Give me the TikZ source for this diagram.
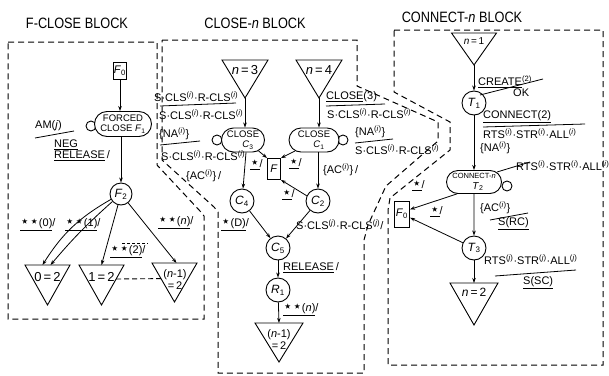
\documentclass[tikz,border=0pt]{standalone}
\usepackage{fontspec}
\setmainfont{Liberation Sans}
\newfontfamily\starfont{DejaVu Sans}
\newfontfamily\titlefont{Liberation Sans}[FakeStretch=0.85]
\usetikzlibrary{calc,arrows.meta,shapes.misc}
\newcommand{\supi}{\textsuperscript{(\textit{i})}}
\newcommand{\supj}{\textsuperscript{(\textit{j})}}
\newcommand{\sstar}{{\starfont\fontsize{15}{11}\selectfont ⋆}}
\newcommand{\myscls}{S·CLS\supi·R-CLS\supi}
\begin{document}
\begin{tikzpicture}[x=1pt,y=-1pt,
  lbl/.style={font=\fontsize{11}{12}\selectfont, inner sep=0pt, anchor=west},
  ttl/.style={font=\titlefont\fontsize{15}{18}\selectfont, inner sep=0pt},
  blk/.style={dash pattern=on 6pt off 4pt, line width=1pt},
  arr/.style={-{Stealth[length=5pt,width=3.5pt]}, line width=0.8pt},
  bar/.style={line width=0.8pt},
  st/.style={circle, draw, line width=0.9pt, minimum size=24pt, inner sep=0pt, fill=white, font=\fontsize{12}{12}\selectfont},
  capn/.style={rounded rectangle, draw, fill=white, line width=0.9pt, inner sep=0pt, align=center},
  boxn/.style={rectangle, draw, fill=white, line width=0.9pt, inner sep=0pt, font=\fontsize{11}{11}\selectfont},
  loopc/.style={circle, draw, line width=0.9pt, minimum size=10pt, inner sep=0pt},
  trin/.style={inner sep=0pt, outer sep=0pt},
  trid/.style={line width=0.9pt, line join=miter},
  tlbl/.style={font=\fontsize{13}{14}\selectfont, inner sep=0pt, align=center}
]
\useasboundingbox (0,0) rectangle (609,375);
\fill[white] (0,0) rectangle (609,375);

% titles
\node[ttl] (ttlF) at (77,23) {F-CLOSE BLOCK};
\node[ttl] (ttlC) at (255,23) {CLOSE-\textit{n} BLOCK};
\node[ttl] (ttlN) at (462,17) {CONNECT-\textit{n} BLOCK};

% block boundaries
\draw[blk] (8,42) -- (157,42) -- (157,165) -- (200,211) -- (204,216) -- (204,319) -- (8,319) -- cycle;
\draw[blk] (162,40) -- (357,40) -- (357,86) -- (438,122) -- (438,141) -- (386,186) -- (368,225) -- (364,240) -- (364,373) -- (218,373) -- (218,212) -- (214,207) -- (162,160) -- cycle;
\draw[blk] (394,30) -- (603,30) -- (603,365) -- (388,365) -- (388,210) -- (390,198) -- (450,150) -- (450,122) -- (394,92) -- cycle;

% ---------- F-CLOSE block ----------
\node[boxn, minimum width=13, minimum height=17] (F0) at (120,71) {\textit{F}\textsubscript{0}};
\node[loopc] (F1loop) at (91,126) {};
\node[capn, minimum width=57, minimum height=25, font=\fontsize{9.5}{10.5}\selectfont] (F1) at (123,124) {FORCED\\CLOSE \textit{F}\textsubscript{1}};
\node[st, minimum size=22pt] (F2) at (121,194) {\textit{F}\textsubscript{2}};

\node[trin, minimum width=45, minimum height=40] (t0) at (47.5,285) {};
\draw[trid] (t0.north west) -- (t0.north east) -- (t0.south) -- cycle;
\node[tlbl] (t0x) at (47.5,277) {0\,=\,2};
\node[trin, minimum width=45, minimum height=40] (t1) at (101.5,285) {};
\draw[trid] (t1.north west) -- (t1.north east) -- (t1.south) -- cycle;
\node[tlbl] (t1x) at (101.5,277) {1\,=\,2};
\node[trin, minimum width=45, minimum height=39] (tn) at (174.5,282.5) {};
\draw[trid] (tn.north west) -- (tn.north east) -- (tn.south) -- cycle;
\node[tlbl, font=\fontsize{11}{12}\selectfont] (tnx) at (175,280) {(\textit{n}-1)\\=\,2};

\draw[arr] (F0.south) -- (F0.south |- F1.north);
\draw[arr] (F1.south -| F2) -- (F2);
\draw[arr] (F2) to[bend right=14] ($(t0.north)+(-5,0)$);
\draw[arr] (F2) to[bend right=4] ($(t0.north)+(3,0)$);
\draw[arr] (F2) -- (t1.north);
\draw[arr] (F2) -- ($(tn.north)+(2,0)$);
\draw[dash pattern=on 5pt off 3pt, line width=0.9pt] ($(t1.north east)!0.35!(t1.south)$) -- ($(tn.north west)!0.4!(tn.south)$);

\node[lbl] (lAM) at (35,126) {AM(\textit{j})};
\draw[bar] (35,138) -- (74,131);
\node[lbl] (lNEG) at (54,145) {\underline{NEG}};
\node[lbl] (lREL) at (54,156) {\underline{RELEASE}\,/};
\node[lbl] (lS0) at (20,225) {\underline{\sstar\sstar(0)}/};
\node[lbl] (lS1) at (65,225) {\underline{\sstar\sstar(1)}/};
\node[lbl] (lS2) at (110,252) {\underline{\sstar\sstar(2)}/};
\draw[dash pattern=on 3pt off 2pt, line width=0.7pt] (122,243) -- (148,243);
\node[lbl] (lSn) at (158,223) {\underline{\sstar\sstar(\textit{n})}/};

% ---------- CLOSE-n block ----------
\node[trin, minimum width=46, minimum height=38] (t3) at (245,79) {};
\draw[trid] (t3.north west) -- (t3.north east) -- (t3.south) -- cycle;
\node[tlbl] (t3x) at (245,70) {\textit{n}\,=\,3};
\node[trin, minimum width=46, minimum height=38] (t4) at (319,79) {};
\draw[trid] (t4.north west) -- (t4.north east) -- (t4.south) -- cycle;
\node[tlbl] (t4x) at (319,70) {\textit{n}\,=\,4};

\node[loopc] (C3loop) at (217,140) {};
\node[capn, minimum width=43, minimum height=24, font=\fontsize{9.5}{10.5}\selectfont] (C3) at (243,140) {CLOSE\\\hspace*{10pt}\textit{C}\textsubscript{3}};
\node[loopc] (C1loop) at (343,140) {};
\node[capn, minimum width=50, minimum height=24, font=\fontsize{9.5}{10.5}\selectfont] (C1) at (314,140) {CLOSE\\\hspace*{10pt}\textit{C}\textsubscript{1}};
\node[boxn, minimum width=13, minimum height=21] (Fb) at (274,169) {\textit{F}};
\node[st] (C4) at (242,201) {\textit{C}\textsubscript{4}};
\node[st] (C2) at (318,201) {\textit{C}\textsubscript{2}};
\node[st] (C5) at (278,248) {\textit{C}\textsubscript{5}};
\node[st] (R1) at (278,290) {\textit{R}\textsubscript{1}};
\node[trin, minimum width=48, minimum height=39] (tc) at (279,342.5) {};
\draw[trid] (tc.north west) -- (tc.north east) -- (tc.south) -- cycle;
\node[tlbl, font=\fontsize{11}{12}\selectfont] (tcx) at (279,340) {(\textit{n}-1)\\=\,2};

\draw[arr] (t3.south) -- (t3.south |- C3.north);
\draw[arr] (t4.south) -- (t4.south |- C1.north);
\draw[arr] ($(C3.south)+(3,0)$) -- (C4);
\draw[arr] (C1.south -| C2) -- (C2);
\draw[arr] (C3.-35) -- (Fb.north west);
\draw[arr] (C1.210) -- (Fb.north east);
\draw[arr] (C2.155) -- (Fb.south east);
\draw[arr] (C4) -- (C5);
\draw[arr] (C2) -- (C5);
\draw[arr] (C5) -- (R1);
\draw[arr] (R1) -- (tc.north);

\node[lbl] (lA1) at (154,97) {\myscls};
\draw[bar] (160,106) -- (236,103);
\node[lbl] (lA2) at (159,115) {\myscls};
\node[lbl] (lA3) at (159,134) {\{NA\supi\}};
\draw[bar] (160,145) -- (200,141);
\node[lbl] (lA4) at (161,156) {\myscls};
\node[lbl] (lA5) at (186,176) {\{AC\supi\}\,/};

\node[lbl] (lB1) at (326,97) {\underline{CLOSE}(3)};
\draw[bar] (326,106) -- (385,104);
\node[lbl] (lB2) at (327,114) {\myscls};
\node[lbl] (lB3) at (355,132) {\{NA\supi\}};
\draw[bar] (355,143) -- (393,139);
\node[lbl] (lB4) at (355,150) {\myscls};
\node[lbl] (lB5) at (323,170) {\{AC\supi\}\,/};

\node[lbl] (lF1) at (250,165) {\underline{\sstar}/};
\node[lbl] (lF2) at (289,164) {\underline{\sstar}/};
\node[lbl] (lF3) at (282,195) {\underline{\sstar}/};
\node[lbl] (lD) at (221,225) {\underline{\sstar(D)}/};
\node[lbl] (lSj) at (296,225) {S·CLS\supj·R-CLS\supj/};
\node[lbl] (lREL2) at (283,268) {\underline{RELEASE}\,/};
\node[lbl] (lSnn) at (283,310) {\underline{\sstar\sstar(\textit{n})}/};

% ---------- CONNECT-n block ----------
\node[trin, minimum width=45, minimum height=32] (tc1) at (474,49) {};
\draw[trid] (tc1.north west) -- (tc1.north east) -- (tc1.south) -- cycle;
\node[tlbl, font=\fontsize{10}{11}\selectfont] (tc1x) at (474,41) {\textit{n}\,=\,1};
\node[st] (T1) at (474,103) {\textit{T}\textsubscript{1}};
\node[loopc] (T2loop) at (507,186) {};
\node[capn, minimum width=55, minimum height=23] (T2) at (474,182) {{\fontsize{7.5}{8.5}\selectfont CONNECT-\textit{n}}\\[-1pt]\hspace*{8pt}{\fontsize{10}{10}\selectfont\textit{T}\textsubscript{2}}};
\node[boxn, minimum width=15, minimum height=26] (F0r) at (402,214) {\textit{F}\textsubscript{0}};
\node[st] (T3) at (474,248) {\textit{T}\textsubscript{3}};
\node[trin, minimum width=48, minimum height=42] (tc2) at (474,304) {};
\draw[trid] (tc2.north west) -- (tc2.north east) -- (tc2.south) -- cycle;
\node[tlbl, font=\fontsize{12}{13}\selectfont] (tc2x) at (474,292) {\textit{n}\,=\,2};

\draw[arr] (tc1.south) -- (T1);
\draw[arr] (T1) -- (T2);
\draw[arr] (T2) -- (T3);
\draw[arr] (T2.215) -- (F0r.30);
\draw[arr] (T3) -- (F0r.-25);
\draw[arr] (T3) -- (tc2.north);

\node[lbl] (lCR) at (478,82) {\underline{CREATE}\textsuperscript{(2)}};
\draw[bar] (480,95) -- (543,79);
\node[lbl] (lOK) at (513,93) {OK};
\node[lbl] (lCN) at (483,117) {\underline{CONNECT(2)}};
\draw[bar] (483,127) -- (585,124);
\node[lbl] (lRT1) at (483,134) {RTS\supi·STR\supi·ALL\supi};
\node[lbl] (lNA) at (480,148) {\{NA\supi\}};
\draw[bar] (497,172) -- (530,162);
\node[lbl] (lRT2) at (516,166) {RTS\supi·STR\supi·ALL\supi};
\node[lbl] (lAC) at (480,208) {\{AC\supi\}};
\draw[bar] (490,220) -- (528,213);
\node[lbl] (lRC) at (498,224) {\underline{S(RC)}};
\node[lbl] (lT2F) at (412,186) {\underline{\sstar}/};
\node[lbl] (lT3F) at (430,212) {\underline{\sstar}/};
\node[lbl] (lRT3) at (484,260) {RTS\supj·STR\supj·ALL\supj};
\draw[bar] (495,276) -- (576,270);
\node[lbl] (lSC) at (523,283) {\underline{S(SC)}};
\end{tikzpicture}
\end{document}
